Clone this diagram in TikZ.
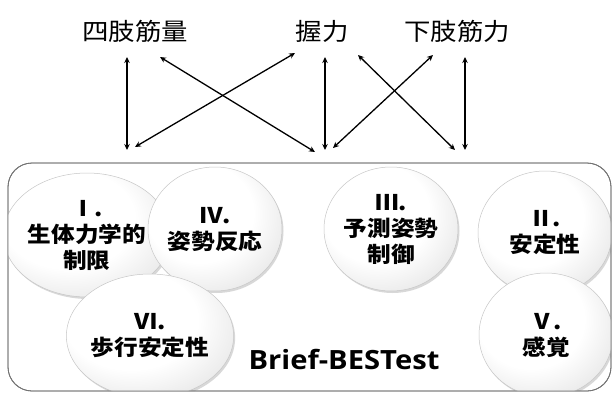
\documentclass[tikz,border=0pt]{standalone}
\usepackage{fontspec}
\newfontfamily\jp[FakeStretch=1.1]{Noto Sans CJK JP}
\newfontfamily\lat[FakeStretch=1.1]{Open Sans}
\usetikzlibrary{arrows.meta,shapes.geometric,shadows}
\pgfdeclareradialshading{btnshade}{\pgfpoint{-8bp}{9bp}}{%
  color(0bp)=(white); color(20bp)=(white); color(35bp)=(black!10);
  color(47bp)=(black!27); color(57bp)=(black!42); color(70bp)=(black!50)}
\tikzset{
  toplabel/.style={font=\jp\fontsize{24}{26}\selectfont, inner sep=0pt},
  btn/.style={ellipse, minimum width=134pt, minimum height=124pt, inner sep=0pt,
    shading=btnshade, draw=black!22, line width=0.5pt,
    drop shadow={shadow xshift=1.5pt, shadow yshift=-2pt, opacity=0.3},
    align=center, font=\jp\bfseries\fontsize{21.5}{26}\selectfont},
  link/.style={{Stealth[length=6pt,width=5.5pt]}-{Stealth[length=6pt,width=5.5pt]}, line width=1.3pt},
}
\begin{document}
\begin{tikzpicture}[x=1pt,y=-1pt]
\useasboundingbox (0,0) rectangle (614,394);
% labels
\node[toplabel] (L1) at (135,31) {四肢筋量};
\node[toplabel] (L2) at (322,31) {握力};
\node[toplabel] (L3) at (457,31) {下肢筋力};
% arrow ends
\coordinate (a1t) at (127,57);  \coordinate (a1b) at (127,150);
\coordinate (a2t) at (160,57);  \coordinate (a2b) at (315,152);
\coordinate (a3t) at (295,53);  \coordinate (a3b) at (135,147);
\coordinate (a4t) at (325,57);  \coordinate (a4b) at (325,150);
\coordinate (a5t) at (358,55);  \coordinate (a5b) at (455,150);
\coordinate (a6t) at (433,55);  \coordinate (a6b) at (333,148);
\coordinate (a7t) at (465,57);  \coordinate (a7b) at (465,150);
\draw[link] (a1t) -- (a1b);
\draw[link] (a2t) -- (a2b);
\draw[link] (a3t) -- (a3b);
\draw[link] (a4t) -- (a4b);
\draw[link] (a5t) -- (a5b);
\draw[link] (a6t) -- (a6b);
\draw[link] (a7t) -- (a7b);
% box
\draw[black!55, line width=0.8pt, rounded corners=24pt, fill=white] (8,163) rectangle (611,391);
% circles
\begin{scope}
\clip[rounded corners=24pt] (8,163) rectangle (611,391);
\node[btn] (c1) at (87,235) {Ⅰ.\\生体力学的\\制限};
\node[btn] (c4) at (215,229) {Ⅳ.\\姿勢反応};
\node[btn] (c6) at (150,336) {Ⅵ.\\歩行安定性};
\node[btn] (c3) at (391,229) {Ⅲ.\\予測姿勢\\制御};
\node[btn] (c2) at (545,233) {Ⅱ.\\安定性};
\node[btn] (c5) at (546,335) {Ⅴ.\\感覚};
\end{scope}
\draw[black!55, line width=0.8pt, rounded corners=24pt] (8,163) rectangle (611,391);
\node[font=\lat\bfseries\fontsize{26.5}{28}\selectfont, inner sep=0pt] (title) at (344,359) {Brief-BESTest};
\end{tikzpicture}
\end{document}
